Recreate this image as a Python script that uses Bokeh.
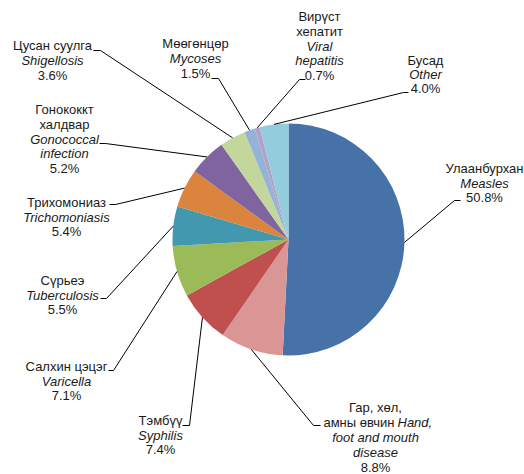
import math
from bokeh.plotting import figure
from bokeh.models import Range1d, ColumnDataSource
from bokeh.core.properties import value
from bokeh.embed import file_html
from bokeh.resources import INLINE

# ---- data ----
names_mn = ["Улаанбурхан", "Гар, хөл,\nамны өвчин", "Тэмбүү", "Салхин цэцэг", "Сүрьеэ",
            "Трихомониаз", "Гонококкт\nхалдвар", "Цусан суулга", "Мөөгөнцөр",
            "Вирүст\nхепатит", "Бусад"]
names_en = ["Measles", "Hand,\nfoot and mouth\ndisease", "Syphilis", "Varicella", "Tuberculosis",
            "Trichomoniasis", "Gonococcal\ninfection", "Shigellosis", "Mycoses",
            "Viral\nhepatitis", "Other"]
shares = [50.8, 8.8, 7.4, 7.1, 5.5, 5.4, 5.2, 3.6, 1.5, 0.7, 4.0]
colors = ["#4672A8", "#D99694", "#C0504D", "#9BBB59", "#4198AF", "#DB843D",
          "#7F64A0", "#C3D69B", "#95B3D7", "#B3A2C7", "#93CDDD"]

# ---- layout (image pixel coordinates) ----
PCX, PCY, R = 288, 239, 116
label_cx = [484, 375, 160, 66, 62, 66, 64, 52, 195, 319, 425]
label_y0 = [168, 407, 420, 366, 280, 202, 109, 45, 43, 16, 60]
label_gap = [14.5, 15.0, 14.5, 14.5, 14.5, 14.5, 14.8, 15, 15, 14.8, 13.8]
stub_a = [(460, 200), (320, 425), (182, 425), (108, 370), (100, 298), (109, 204),
          (99, 143), (93, 50), (211, 78), (305, 79), (408, 92)]
stub_b = [(454, 200), (313, 425), (189, 425), (113, 370), (106, 298), (115, 204),
          (105, 143), (100, 50), (218, 78), (299, 79), (403, 92)]
# mixed line of HFMD label: split x for "амны өвчин" | "Hand,"
mixed_split = (394, 397)

FONT = "Liberation Sans"
FS = "13px"
TXT = "#1a1a1a"

W, H = 524, 474
p = figure(width=W, height=H, output_backend="svg", toolbar_location=None,
           x_range=Range1d(0, W), y_range=Range1d(-H, 0),
           x_axis_type=None, y_axis_type=None, min_border=0)
p.grid.visible = False
p.outline_line_color = None
p.background_fill_color = "white"
p.border_fill_color = "white"

total = sum(shares)
starts, ends, mids = [], [], []
cum = 0.0
for v in shares:
    a0 = math.pi / 2 - 2 * math.pi * (cum + v) / total
    a1 = math.pi / 2 - 2 * math.pi * cum / total
    starts.append(a0)
    ends.append(a1)
    mids.append((a0 + a1) / 2)
    cum += v

src = ColumnDataSource(dict(start=starts, end=ends, color=colors))
p.wedge(x=PCX, y=-PCY, radius=R, start_angle="start", end_angle="end",
        fill_color="color", line_color=None, source=src)

# leader lines
xs, ys = [], []
for i, m in enumerate(mids):
    ex = PCX + R * math.cos(m)
    ey = PCY - R * math.sin(m)
    xs.append([stub_a[i][0], stub_b[i][0], ex])
    ys.append([-stub_a[i][1], -stub_b[i][1], -ey])
p.multi_line(xs=xs, ys=ys, line_color="#000000", line_width=1)

# labels
norm = dict(x=[], y=[], text=[], align=[])
ital = dict(x=[], y=[], text=[], align=[])
for i in range(len(shares)):
    mn = names_mn[i].split("\n")
    en = names_en[i].split("\n")
    pct = f"{shares[i]:.1f}%"
    y = label_y0[i]
    g = label_gap[i]
    cx = label_cx[i]
    if i == 1:
        norm["x"].append(cx); norm["y"].append(-y); norm["text"].append(mn[0]); norm["align"].append("center")
        y += g
        norm["x"].append(mixed_split[0]); norm["y"].append(-y); norm["text"].append(mn[1]); norm["align"].append("right")
        ital["x"].append(mixed_split[1]); ital["y"].append(-y); ital["text"].append(en[0]); ital["align"].append("left")
        y += g
        for t in en[1:]:
            ital["x"].append(cx); ital["y"].append(-y); ital["text"].append(t); ital["align"].append("center")
            y += g
    else:
        for t in mn:
            norm["x"].append(cx); norm["y"].append(-y); norm["text"].append(t); norm["align"].append("center")
            y += g
        for t in en:
            ital["x"].append(cx); ital["y"].append(-y); ital["text"].append(t); ital["align"].append("center")
            y += g
    norm["x"].append(cx); norm["y"].append(-y); norm["text"].append(pct); norm["align"].append("center")

p.text(x="x", y="y", text="text", text_align="align", text_baseline="middle",
       text_font=value(FONT), text_font_size=FS, text_color=TXT,
       source=ColumnDataSource(norm))
p.text(x="x", y="y", text="text", text_align="align", text_baseline="middle",
       text_font=value(FONT), text_font_size=FS, text_font_style="italic", text_color=TXT,
       source=ColumnDataSource(ital))

open("out.html", "w").write(file_html(p, INLINE))
